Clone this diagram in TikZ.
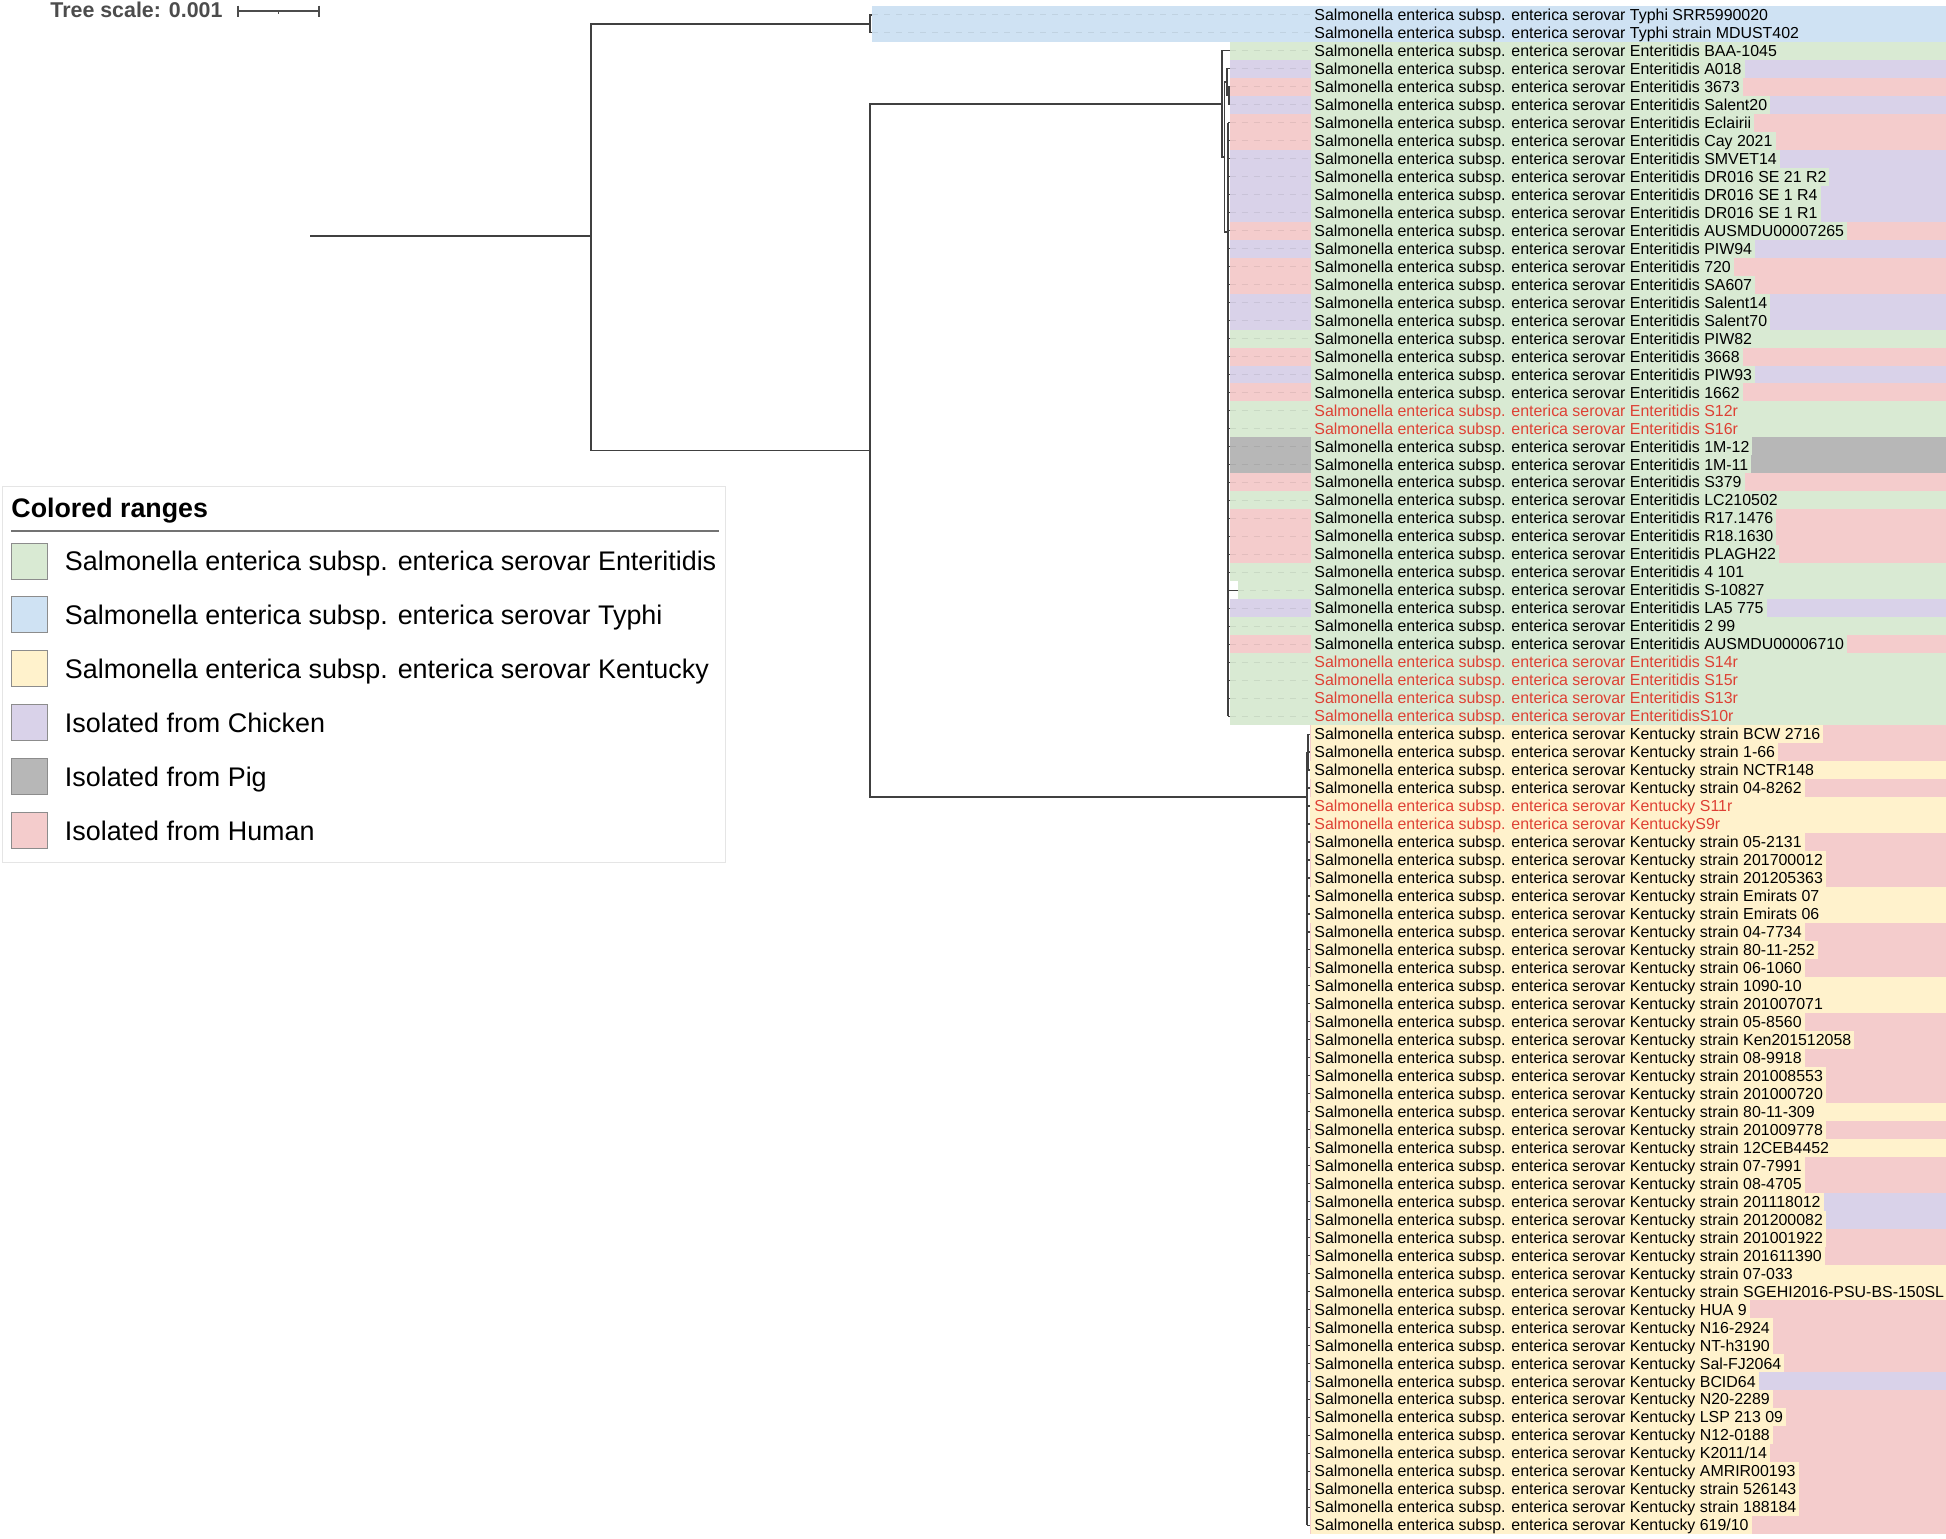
\documentclass[tikz,border=0pt]{standalone}
\usepackage{fontspec}
\setmainfont{Liberation Sans}
\usetikzlibrary{calc}

\definecolor{entgreen}{RGB}{217,234,211}
\definecolor{typblue}{RGB}{207,226,243}
\definecolor{kenyellow}{RGB}{255,242,204}
\definecolor{chkpurple}{RGB}{217,210,233}
\definecolor{piggray}{RGB}{183,183,183}
\definecolor{humpink}{RGB}{244,204,204}
\definecolor{lblred}{RGB}{222,64,52}
% host codes used in the leaf lists: n = none (serovar colour), c, g, h; text: k, r
\colorlet{colc}{chkpurple}
\colorlet{colg}{piggray}
\colorlet{colh}{humpink}
\colorlet{colk}{black}
\colorlet{colr}{lblred}
\newcommand{\sal}{Salmonella enterica subsp. enterica serovar}

\begin{document}
\begin{tikzpicture}[x=0.5pt, y=-0.5pt,
  branch/.style={draw=black!75, line width=0.6pt},
  leader/.style={draw=black, draw opacity=0.07, line width=0.5pt, dash pattern=on 3pt off 3pt},
  leaf/.style={anchor=west, font=\fontsize{7.96}{9}\selectfont, inner xsep=1.5pt, inner ysep=0pt,
    minimum height=9pt, text height=6.6pt, text depth=1pt},
  legsw/.style={draw=black!45, line width=0.5pt, minimum size=18pt, inner sep=0pt},
  legtext/.style={anchor=west, inner sep=0pt, text height=9.7pt, text depth=0pt, font=\fontsize{13.45}{16}\selectfont},
]
\useasboundingbox (0,0) rectangle (1946,1538);

% === Typhi leaves ===
\colorlet{coln}{typblue}
\foreach \h/\c/\n [count=\i] in {n/k/Typhi SRR5990020, n/k/Typhi strain MDUST402} {
  \pgfmathsetmacro\y{14.9+(\i-1)*17.98}
  \coordinate (t\i) at (872,\y);
  \fill[col\h] (872,\y-9) rectangle (1946,\y+9);
  \node[leaf, fill=coln, text=col\c] (l\i) at (1311,\y) {\sal\ \n};
  \draw[leader] (t\i) -- (l\i.west);
}

% === Enteritidis leaves ===
\colorlet{coln}{entgreen}
\foreach \h/\c/\n [count=\i from 3] in {
  n/k/Enteritidis BAA-1045, c/k/Enteritidis A018, h/k/Enteritidis 3673, c/k/Enteritidis Salent20,
  h/k/Enteritidis Eclairii, h/k/Enteritidis Cay 2021, c/k/Enteritidis SMVET14,
  c/k/Enteritidis DR016 SE 21 R2, c/k/Enteritidis DR016 SE 1 R4, c/k/Enteritidis DR016 SE 1 R1,
  h/k/Enteritidis AUSMDU00007265, c/k/Enteritidis PIW94, h/k/Enteritidis 720, h/k/Enteritidis SA607,
  c/k/Enteritidis Salent14, c/k/Enteritidis Salent70, n/k/Enteritidis PIW82, h/k/Enteritidis 3668,
  c/k/Enteritidis PIW93, h/k/Enteritidis 1662, n/r/Enteritidis S12r, n/r/Enteritidis S16r,
  g/k/Enteritidis 1M-12, g/k/Enteritidis 1M-11, h/k/Enteritidis S379, n/k/Enteritidis LC210502,
  h/k/Enteritidis R17.1476, h/k/Enteritidis R18.1630, h/k/Enteritidis PLAGH22, n/k/Enteritidis 4 101,
  n/k/Enteritidis S-10827, c/k/Enteritidis LA5 775, n/k/Enteritidis 2 99,
  h/k/Enteritidis AUSMDU00006710, n/r/Enteritidis S14r, n/r/Enteritidis S15r,
  n/r/Enteritidis S13r, n/r/EnteritidisS10r} {
  \pgfmathsetmacro\y{14.9+(\i-1)*17.98}
  \pgfmathsetmacro\tx{\i==33 ? 1238 : 1229.5}
  \coordinate (t\i) at (\tx,\y);
  \fill[col\h] (\tx,\y-9) rectangle (1946,\y+9);
  \node[leaf, fill=coln, text=col\c] (l\i) at (1311,\y) {\sal\ \n};
  \draw[leader] (t\i) -- (l\i.west);
}

% === Kentucky leaves ===
\colorlet{coln}{kenyellow}
\foreach \h/\c/\n [count=\i from 41] in {
  h/k/Kentucky strain BCW 2716, h/k/Kentucky strain 1-66, n/k/Kentucky strain NCTR148,
  h/k/Kentucky strain 04-8262, n/r/Kentucky S11r, n/r/KentuckyS9r, h/k/Kentucky strain 05-2131,
  h/k/Kentucky strain 201700012, h/k/Kentucky strain 201205363, n/k/Kentucky strain Emirats 07,
  n/k/Kentucky strain Emirats 06, h/k/Kentucky strain 04-7734, h/k/Kentucky strain 80-11-252,
  h/k/Kentucky strain 06-1060, n/k/Kentucky strain 1090-10, n/k/Kentucky strain 201007071,
  h/k/Kentucky strain 05-8560, h/k/Kentucky strain Ken201512058, h/k/Kentucky strain 08-9918,
  h/k/Kentucky strain 201008553, h/k/Kentucky strain 201000720, n/k/Kentucky strain 80-11-309,
  h/k/Kentucky strain 201009778, n/k/Kentucky strain 12CEB4452, h/k/Kentucky strain 07-7991,
  h/k/Kentucky strain 08-4705, c/k/Kentucky strain 201118012, c/k/Kentucky strain 201200082,
  h/k/Kentucky strain 201001922, h/k/Kentucky strain 201611390, n/k/Kentucky strain 07-033,
  n/k/Kentucky strain SGEHI2016-PSU-BS-150SL, h/k/Kentucky HUA 9, h/k/Kentucky N16-2924,
  h/k/Kentucky NT-h3190, h/k/Kentucky Sal-FJ2064, c/k/Kentucky BCID64, h/k/Kentucky N20-2289,
  h/k/Kentucky LSP 213 09, h/k/Kentucky N12-0188, h/k/Kentucky {K2011/14}, h/k/Kentucky AMRIR00193,
  h/k/Kentucky strain 526143, h/k/Kentucky strain 188184, h/k/Kentucky {619/10}} {
  \pgfmathsetmacro\y{14.9+(\i-1)*17.98}
  \coordinate (t\i) at (1309.5,\y);
  \fill[col\h] (1309.5,\y-9) rectangle (1946,\y+9);
  \node[leaf, fill=coln, text=col\c] (l\i) at (1311,\y) {\sal\ \n};
}

% === tree ===
\coordinate (root) at (310,236);
\coordinate (n0) at (591,236);
\coordinate (ty) at (870,23.9);
\coordinate (n1) at (870,450.5);
\coordinate (e0) at (1222,104);
\coordinate (e1) at (1224.5,157);
\coordinate (e2) at (1227,82);
\coordinate (e2b) at (1229,95.8);
\coordinate (e3) at (1228,232);
\coordinate (k0) at (1307,797);
\coordinate (k1) at (1308,752);
\draw[branch] (root) -- (n0);
\draw[branch] (n0) |- (ty);
\draw[branch] (n0) |- (n1);
\draw[branch] (ty) |- (t1);
\draw[branch] (ty) |- (t2);
\draw[branch] (n1) |- (e0);
\draw[branch] (n1) |- (k0);
\draw[branch] (e0) |- (t3);
\draw[branch] (e0) |- (e1);
\draw[branch] (e1) |- (e2);
\draw[branch] (e1) |- (e3);
\draw[branch] (e2) |- (t4);
\draw[branch] (e2) |- (e2b);
\draw[branch] (e2b) |- (t5);
\draw[branch] (e2b) |- (t6);
\draw[branch] (t7 -| e3) -- (t40 -| e3);
\foreach \i in {7,...,40} \draw[branch] (t\i -| e3) -- (t\i);
\draw[branch] (k1) |- (t41);
\draw[branch] (k1) |- (t43);
\draw[branch] (k1 |- t42) -- (t42);
\draw[branch] (k0 |- k1) -- (k1);
\draw[branch] (k0 |- k1) -- (t85 -| k0);
\foreach \i in {44,...,85} \draw[branch] (t\i -| k0) -- (t\i);

% === tree scale ===
\node[anchor=west, inner sep=0pt, text=black!70, font=\bfseries\fontsize{10.7}{12}\selectfont] (tscale) at (50,10) {Tree scale: 0.001};
\coordinate (sb1) at (238,11);
\coordinate (sb2) at (319,11);
\draw[black!70, line width=0.8pt] (sb1) -- (sb2);
\draw[black!70, line width=0.8pt] ($(sb1)+(0,-5.5)$) -- ($(sb1)+(0,5.5)$);
\draw[black!70, line width=0.8pt] ($(sb2)+(0,-5.5)$) -- ($(sb2)+(0,5.5)$);
\draw[black!70, line width=0.6pt] ($(sb1)!0.5!(sb2)$) -- ++(0,3);

% === legend ===
\draw[black!10, fill=white] (2.5,486.5) rectangle (725,862.6);
\node[anchor=west, inner sep=0pt, text height=9.7pt, text depth=0pt, font=\bfseries\fontsize{13.4}{16}\selectfont] (legtitle) at (11,508) {Colored ranges};
\draw[black!55, line width=0.6pt] (11,531) -- (719,531);
\foreach \col/\txt [count=\j from 0] in {entgreen/\sal\ Enteritidis, typblue/\sal\ Typhi,
    kenyellow/\sal\ Kentucky, chkpurple/Isolated from Chicken, piggray/Isolated from Pig,
    humpink/Isolated from Human} {
  \pgfmathsetmacro\ly{561+\j*53.86}
  \node[legsw, fill=\col] (sw\j) at (29,\ly) {};
  \node[legtext] (lt\j) at (64.5,\ly) {\txt};
}
\end{tikzpicture}
\end{document}
